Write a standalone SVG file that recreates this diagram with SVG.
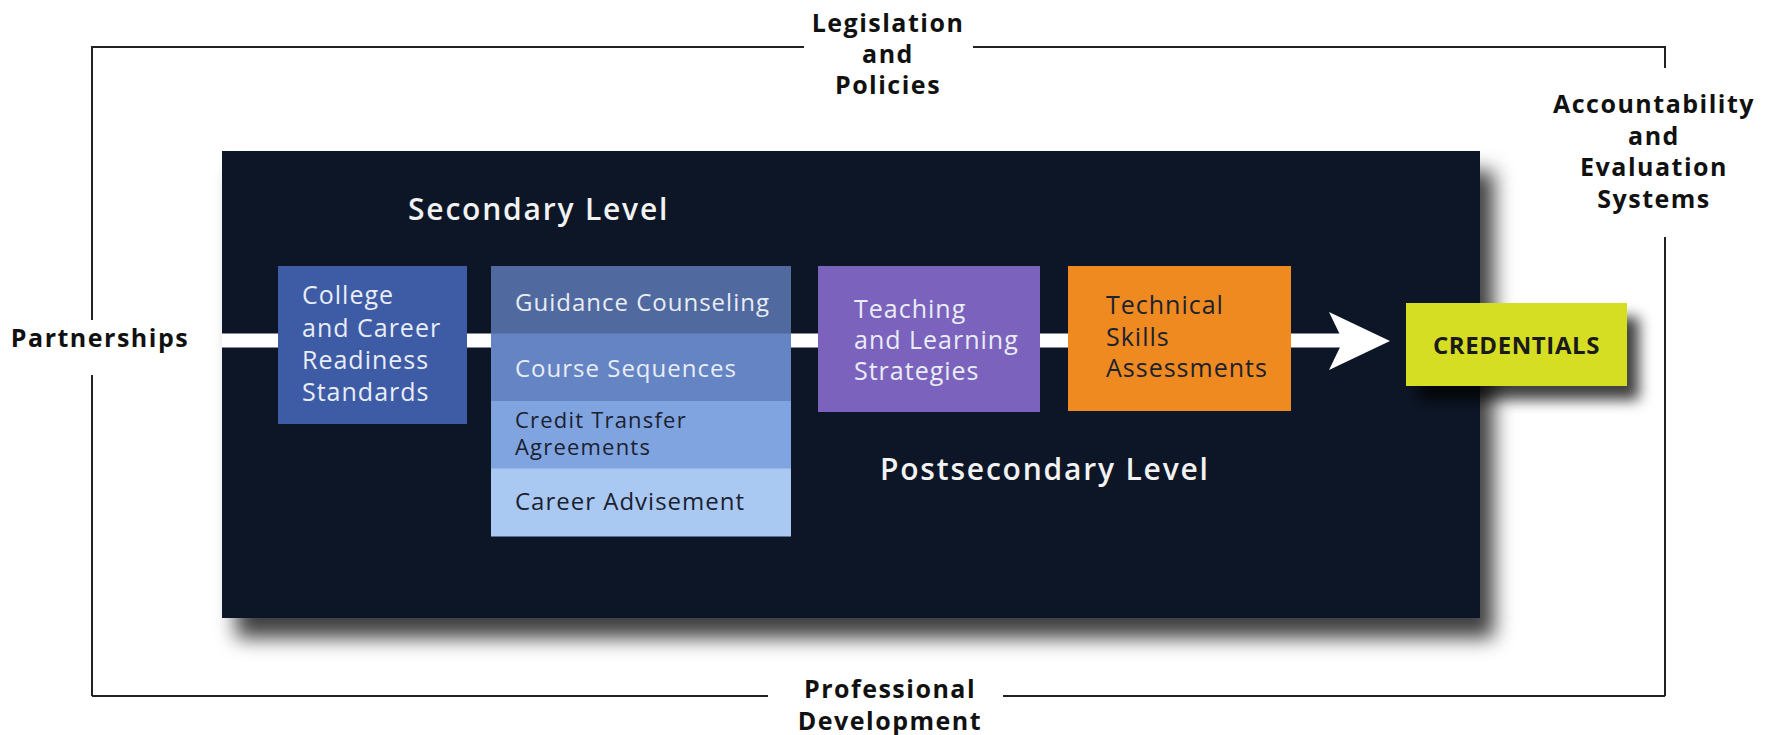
<svg xmlns="http://www.w3.org/2000/svg" width="1771" height="735" viewBox="0 0 1771 735">
  <defs>
    <filter id="shadowBig" x="-10%" y="-10%" width="125%" height="130%">
      <feDropShadow dx="14" dy="20" stdDeviation="10" flood-color="#000" flood-opacity="0.75"/>
    </filter>
    <filter id="shadowSmall" x="-10%" y="-20%" width="130%" height="160%">
      <feDropShadow dx="12" dy="14" stdDeviation="7" flood-color="#000" flood-opacity="0.75"/>
    </filter>
    <style>
      .frame { stroke: #222; stroke-width: 2; fill: none; }
      .outer { font-family: "Open Sans", "Liberation Sans", sans-serif; font-weight: 700; font-size: 25px; fill: #111; letter-spacing: 1.5px; text-anchor: middle; }
      .level { font-family: "Open Sans", "Liberation Sans", sans-serif; font-weight: 600; font-size: 30px; fill: #f2f2f2; letter-spacing: 1.8px; }
      .box { font-family: "Open Sans", "Liberation Sans", sans-serif; font-size: 25px; letter-spacing: 1px; }
      .row { font-family: "Open Sans", "Liberation Sans", sans-serif; font-size: 24px; letter-spacing: 1px; }
      .tight { font-size: 22px; letter-spacing: 1.2px; }
      .light { fill: #e9edf6; }
      .dark { fill: #1b2130; }
      .cred { font-family: "Open Sans", "Liberation Sans", sans-serif; font-weight: 700; font-size: 24px; fill: #1a1a1a; letter-spacing: 0.6px; }
    </style>
  </defs>

  <rect width="1771" height="735" fill="#ffffff"/>

  <g id="frame">
    <line class="frame" x1="92" y1="47" x2="804" y2="47"/>
    <line class="frame" x1="973" y1="47" x2="1665" y2="47"/>
    <line class="frame" x1="1665" y1="46" x2="1665" y2="68"/>
    <line class="frame" x1="1665" y1="237" x2="1665" y2="696"/>
    <line class="frame" x1="92" y1="696" x2="768" y2="696"/>
    <line class="frame" x1="1003" y1="696" x2="1665" y2="696"/>
    <line class="frame" x1="92" y1="46" x2="92" y2="320"/>
    <line class="frame" x1="92" y1="375" x2="92" y2="696"/>
  </g>

  <g id="legislation">
    <text class="outer" x="888" y="32">Legislation</text>
    <text class="outer" x="888" y="63">and</text>
    <text class="outer" x="888" y="94">Policies</text>
  </g>
  <g id="accountability">
    <text class="outer" x="1654" y="113">Accountability</text>
    <text class="outer" x="1654" y="144.5">and</text>
    <text class="outer" x="1654" y="176">Evaluation</text>
    <text class="outer" x="1654" y="207.5">Systems</text>
  </g>
  <g id="partnerships">
    <text class="outer" x="100" y="347">Partnerships</text>
  </g>
  <g id="professional">
    <text class="outer" x="890" y="698">Professional</text>
    <text class="outer" x="890" y="730">Development</text>
  </g>

  <g id="pipeline">
    <rect x="222" y="151" width="1258" height="467" fill="#111726" filter="url(#shadowBig)"/>
    <text class="level" x="408" y="220">Secondary Level</text>
    <text class="level" x="880" y="480">Postsecondary Level</text>
  </g>

  <g id="connectors">
    <rect x="222" y="333.5" width="1122" height="14" fill="#ffffff"/>
    <polygon points="1329,312 1390,341 1329,370 1343,341" fill="#ffffff"/>
  </g>

  <g id="college">
    <rect x="278" y="266" width="189" height="158" fill="#3e5ba6"/>
    <text class="box light" x="302" y="304">College</text>
    <text class="box light" x="302" y="336.5">and Career</text>
    <text class="box light" x="302" y="368.5">Readiness</text>
    <text class="box light" x="302" y="401">Standards</text>
  </g>

  <g id="guidance">
    <rect x="491" y="266" width="300" height="68" fill="#50699f"/>
    <text class="row light" x="515" y="310.5">Guidance Counseling</text>
  </g>
  <g id="course">
    <rect x="491" y="333.5" width="300" height="68" fill="#6584c4"/>
    <text class="row light" x="515" y="377">Course Sequences</text>
  </g>
  <g id="credit">
    <rect x="491" y="401" width="300" height="68" fill="#7fa4df"/>
    <text class="row tight dark" x="515" y="427.5">Credit Transfer</text>
    <text class="row tight dark" x="515" y="455">Agreements</text>
  </g>
  <g id="career">
    <rect x="491" y="468.5" width="300" height="68" fill="#aac9f2"/>
    <text class="row dark" x="515" y="510">Career Advisement</text>
  </g>

  <g id="teaching">
    <rect x="818" y="266" width="222" height="146" fill="#7b63bd"/>
    <text class="box light" x="854" y="317.5">Teaching</text>
    <text class="box light" x="854" y="348.5">and Learning</text>
    <text class="box light" x="854" y="379.5">Strategies</text>
  </g>

  <g id="technical">
    <rect x="1068" y="266" width="223" height="145" fill="#ee8a1f"/>
    <text class="box dark" x="1106" y="314">Technical</text>
    <text class="box dark" x="1106" y="345.5">Skills</text>
    <text class="box dark" x="1106" y="377">Assessments</text>
  </g>

  <g id="credentials">
    <rect x="1406" y="303" width="221" height="83" fill="#d5de20" filter="url(#shadowSmall)"/>
    <text class="cred" x="1516.5" y="354" text-anchor="middle">CREDENTIALS</text>
  </g>
</svg>
